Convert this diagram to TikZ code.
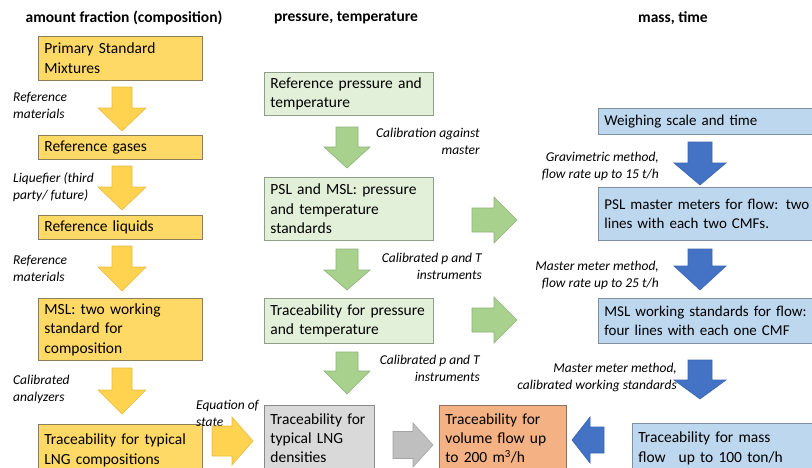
\documentclass[tikz,border=0pt]{standalone}
\usepackage{fontspec}
\setmainfont{Carlito}
\definecolor{yfill}{HTML}{FFD966}
\definecolor{ydraw}{HTML}{8C7E5A}
\definecolor{yarrow}{HTML}{FFD24F}
\definecolor{yarrowd}{HTML}{E8BB45}
\definecolor{gfill}{HTML}{E2F0D9}
\definecolor{gdraw}{HTML}{8E9E88}
\definecolor{garrow}{HTML}{A9D18E}
\definecolor{garrowd}{HTML}{8DB277}
\definecolor{bfill}{HTML}{BDD7EE}
\definecolor{bdraw}{HTML}{7E8FA0}
\definecolor{barrow}{HTML}{4472C4}
\definecolor{barrowd}{HTML}{3B65B0}
\definecolor{grfill}{HTML}{D9D9D9}
\definecolor{grdraw}{HTML}{8A8A8A}
\definecolor{grarrow}{HTML}{BFBFBF}
\definecolor{grarrowd}{HTML}{A5A5A5}
\definecolor{ofill}{HTML}{F4B183}
\definecolor{odraw}{HTML}{8C7060}
\newcommand{\ArrDown}[7]{% style, cx, ytop, yhead, ytip, shaft, head
  \filldraw[#1] ({#2-#6/2},#3) -- ({#2+#6/2},#3) -- ({#2+#6/2},#4) -- ({#2+#7/2},#4)
    -- (#2,#5) -- ({#2-#7/2},#4) -- ({#2-#6/2},#4) -- cycle;}
\newcommand{\ArrHor}[7]{% style, cy, xstart, xhead, xtip, shaft, head
  \filldraw[#1] (#3,{#2-#6/2}) -- (#3,{#2+#6/2}) -- (#4,{#2+#6/2}) -- (#4,{#2+#7/2})
    -- (#5,#2) -- (#4,{#2-#7/2}) -- (#4,{#2-#6/2}) -- cycle;}
\tikzset{
  box/.style={rectangle, anchor=north west, align=left, inner xsep=6pt, inner ysep=0pt,
    line width=0.8pt, font=\fontsize{15.5}{19.5}\selectfont},
  ybox/.style={box, draw=ydraw, fill=yfill, text width=152pt},
  gbox/.style={box, draw=gdraw, fill=gfill, text width=157pt},
  bbox/.style={box, draw=bdraw, fill=bfill, text width=220pt, font=\fontsize{15}{19.5}\selectfont},
  head/.style={font=\fontsize{15.5}{19}\selectfont\bfseries, inner sep=0pt},
  lab/.style={font=\fontsize{13.5}{17}\selectfont\itshape, inner sep=0pt},
  yarr/.style={fill=yarrow, draw=yarrowd, line width=0.6pt},
  garr/.style={fill=garrow, draw=garrowd, line width=0.6pt},
  barr/.style={fill=barrow, draw=barrowd, line width=0.6pt},
  grarr/.style={fill=grarrow, draw=grarrowd, line width=0.6pt},
}
\begin{document}
\begin{tikzpicture}[x=1pt,y=-1pt]
\useasboundingbox (0,0) rectangle (812,467);
\clip (0,0) rectangle (812,467);
\fill[white] (0,0) rectangle (812,467);
% headers
\node[head] (h1) at (124,18) {amount fraction (composition)};
\node[head] (h2) at (346,18) {pressure, temperature};
\node[head] (h3) at (673,18) {mass, time};
% yellow column
\node[ybox, minimum height=44pt] (psm) at (38,36) {Primary Standard\\Mixtures};
\node[ybox, minimum height=24pt] (rg) at (38,135) {Reference gases};
\node[ybox, minimum height=24pt] (rl) at (38,215) {Reference liquids};
\node[ybox, minimum height=62pt] (msl) at (38,298) {MSL: two working\\standard for\\composition};
\node[ybox, minimum height=52pt] (tc) at (38,424) {Traceability for typical\\LNG compositions};
% green column
\node[gbox, minimum height=43pt] (rpt) at (264,72) {Reference pressure and\\temperature};
\node[gbox, minimum height=63pt] (pslpt) at (264,177) {PSL and MSL: pressure\\and temperature\\standards};
\node[gbox, minimum height=45pt] (tpt) at (264,298) {Traceability for pressure\\and temperature};
% bottom middle
\node[box, draw=grdraw, fill=grfill, text width=98pt, minimum height=66pt, font=\fontsize{15.5}{19}\selectfont] (tld) at (264,405) {Traceability for\\typical LNG\\densities};
\node[box, draw=odraw, fill=ofill, text width=115pt, minimum height=66pt, font=\fontsize{15.5}{19}\selectfont] (tvf) at (439,405) {Traceability for\\volume flow up\\to 200 m\textsuperscript{3}/h};
% blue column
\node[bbox, minimum height=26pt] (ws) at (598,108) {Weighing scale and time};
\node[bbox, minimum height=53pt] (pslm) at (598,187) {PSL master meters for flow: two\\lines with each two CMFs.};
\node[bbox, minimum height=45pt] (mslw) at (598,298) {MSL working standards for flow:\\four lines with each one CMF};
\node[box, draw=bdraw, fill=bfill, text width=188pt, minimum height=50pt] (tm) at (632,423) {Traceability for mass\\flow\hspace{0.5em} up to 100 ton/h};
% labels
\node[lab, anchor=west, align=left] (l1) at (13,105) {Reference\\materials};
\node[lab, anchor=west, align=left] (l2) at (13,187) {Liquefier (third\\party/ future)};
\node[lab, anchor=west, align=left] (l3) at (13,268) {Reference\\materials};
\node[lab, anchor=west, align=left] (l4) at (13,389) {Calibrated\\analyzers};
\node[lab, anchor=west, align=left] (l5) at (196,413) {Equation of\\state};
\node[lab, anchor=east, align=right] (l6) at (480,141) {Calibration against\\master};
\node[lab, anchor=east, align=right] (l7) at (482,266) {Calibrated p and T\\instruments};
\node[lab, anchor=east, align=right] (l8) at (480,368) {Calibrated p and T\\instruments};
\node[lab, anchor=east, align=right] (l9) at (659,166) {Gravimetric method,\\flow rate up to 15 t/h};
\node[lab, anchor=east, align=right] (l10) at (659,275) {Master meter method,\\flow rate up to 25 t/h};
\node[lab, anchor=east, align=right] (l11) at (677,377) {Master meter method,\\calibrated working standards};
% yellow arrows
\ArrDown{yarr}{122}{87}{108}{131}{20}{48}
\ArrDown{yarr}{122}{166}{187}{210}{20}{48}
\ArrDown{yarr}{122}{246}{267}{291}{20}{48}
\ArrDown{yarr}{122}{368}{390}{414}{20}{48}
\ArrHor{yarr}{441}{212}{232}{253}{30}{48}
% green arrows
\ArrDown{garr}{347}{127}{147}{168}{22}{46}
\ArrDown{garr}{347}{249}{270}{290}{22}{46}
\ArrDown{garr}{347}{352}{371}{394}{22}{46}
\ArrHor{garr}{220}{472}{494}{517}{24}{46}
\ArrHor{garr}{320}{472}{494}{517}{24}{46}
% gray arrow
\ArrHor{grarr}{445}{393}{413}{433}{27}{44}
% blue arrows
\ArrDown{barr}{700}{142}{163}{185}{24}{52}
\ArrDown{barr}{700}{249}{266}{290}{24}{52}
\ArrDown{barr}{700}{360}{380}{399}{24}{52}
\ArrHor{barr}{440}{604}{590}{572}{26}{46}
\end{tikzpicture}
\end{document}
